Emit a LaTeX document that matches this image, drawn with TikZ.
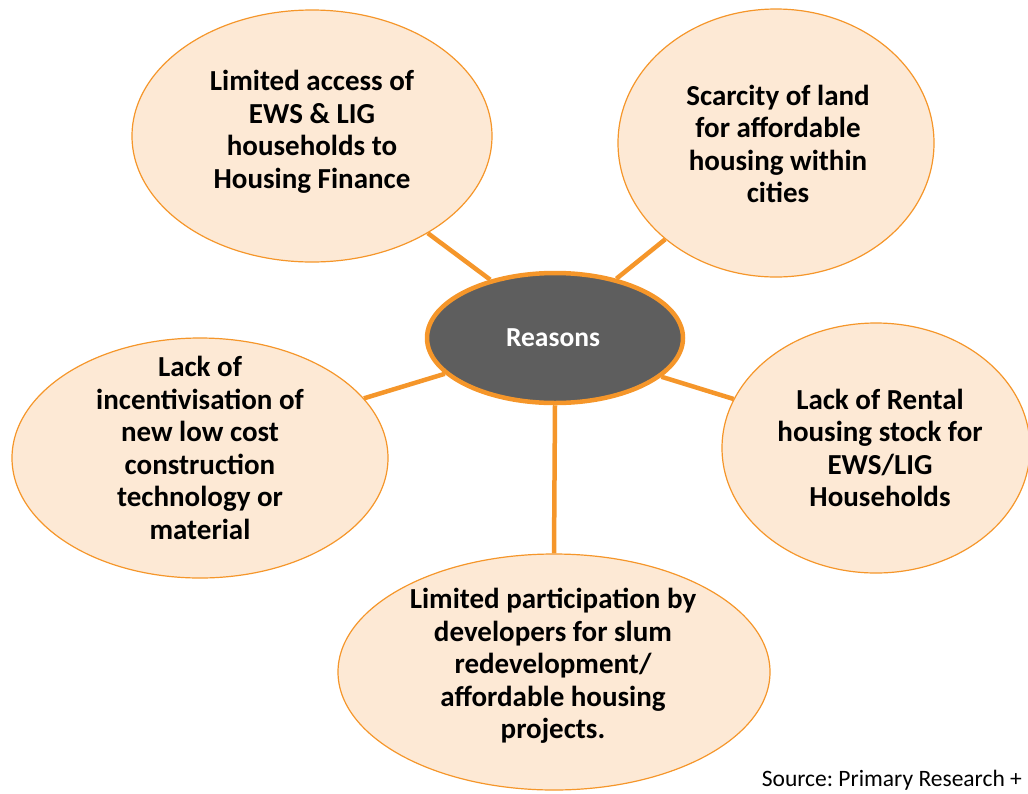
\documentclass[tikz,border=0pt]{standalone}
\usepackage{fontspec}
\setmainfont{Carlito}
\usetikzlibrary{shapes.geometric,backgrounds}
\definecolor{rorange}{HTML}{F5962A}
\definecolor{rpeach}{HTML}{FDE9D5}
\definecolor{rgrey}{HTML}{5E5E5E}
\tikzset{
  reason/.style={ellipse, draw=rorange, line width=1.2pt, fill=rpeach, inner sep=0pt},
  hub/.style={ellipse, draw=rorange, line width=4.5pt, fill=rgrey, inner sep=0pt},
  rtext/.style={align=center, font=\fontsize{29}{32.5}\selectfont\bfseries, text=black, inner sep=0pt},
  spoke/.style={draw=rorange, line width=4.5pt},
}
\frenchspacing
\begin{document}
\begin{tikzpicture}[x=1pt,y=-1pt]
\useasboundingbox (0,0) rectangle (1028,793);
% central hub
\node[hub, minimum width=256pt, minimum height=130pt] (c) at (555,338) {};
\node[rtext, text=white, font=\fontsize{27.5}{30}\selectfont\bfseries] (ct) at (553,338) {Reasons};
% surrounding reasons
\node[reason, minimum width=360pt, minimum height=252pt] (tl) at (312,136) {};
\node[reason, minimum width=316pt, minimum height=268pt] (tr) at (776,143) {};
\node[reason, minimum width=376pt, minimum height=240pt] (l) at (200,458) {};
\node[reason, minimum width=308pt, minimum height=250pt] (r) at (876,448) {};
\node[reason, minimum width=432pt, minimum height=236pt] (b) at (554,672) {};
\node[rtext] (tlt) at (312,132) {Limited access of\\EWS \& LIG\\households to\\Housing Finance};
\node[rtext] (trt) at (778,144) {Scarcity of land\\for affordable\\housing within\\cities};
\node[rtext] (lt) at (200,448) {Lack of\\incentivisation of\\new low cost\\construction\\technology or\\material};
\node[rtext] (rt) at (880,448) {Lack of Rental\\housing stock for\\EWS/LIG\\Households};
\node[rtext] (bt) at (553,666) {Limited participation by\\developers for slum\\redevelopment/\\affordable housing\\projects.};
% spokes
\begin{pgfonlayer}{background}
\draw[spoke] (c.138) -- (tl.320);
\draw[spoke] (c.44) -- (tr.221);
\draw[spoke] (c.198) -- (l.20);
\draw[spoke] (c.340) -- (r.161);
\draw[spoke] (c.south) -- (b.north);
\end{pgfonlayer}
% source note
\node[anchor=east, font=\fontsize{23.5}{28}\selectfont, inner sep=0pt] (src) at (1022,780) {Source: Primary Research +};
\end{tikzpicture}
\end{document}
